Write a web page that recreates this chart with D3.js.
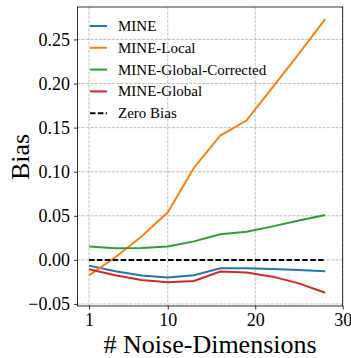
<!DOCTYPE html>
<html><head><meta charset="utf-8">
<script src="https://cdn.jsdelivr.net/npm/d3@7"></script>
<style>html,body{margin:0;padding:0;background:#fff;}svg{display:block;} svg text{font-family:"Liberation Serif","DejaVu Serif",serif !important;}</style>
</head><body>
<script>
const noiseDims = [1, 4, 7, 10, 13, 16, 19, 22, 25, 28];
const mine = [-0.0065, -0.013, -0.0178, -0.0201, -0.0175, -0.0095, -0.0095, -0.0102, -0.0114, -0.013];
const mineLocal = [-0.0175, 0.003, 0.0265, 0.054, 0.1045, 0.141, 0.158, 0.196, 0.234, 0.273];
const mineGlobalCorrected = [0.0151, 0.0132, 0.0136, 0.0151, 0.021, 0.029, 0.032, 0.038, 0.0447, 0.051];
const mineGlobal = [-0.0107, -0.0175, -0.0227, -0.0254, -0.0239, -0.0133, -0.0144, -0.019, -0.0266, -0.0372];
const zeroBias = noiseDims.map(() => 0);
const seriesNames = ["MINE", "MINE-Local", "MINE-Global-Corrected", "MINE-Global", "Zero Bias"];
const seriesColors = ["#1f77b4", "#ff7f0e", "#2ca02c", "#d62728", "#000000"];
const xTicks = [1, 10, 20, 30];
const yTicks = [-0.05, 0, 0.05, 0.10, 0.15, 0.20, 0.25];

const W = 351, H = 358;
const L = 77.5, R = 342.7, T = 7, B = 306;
const svg = d3.select("body").append("svg").attr("width", W).attr("height", H);
const x = d3.scaleLinear().domain([-0.32, 30]).range([L, R]);
const y = d3.scaleLinear().domain([-0.0523, 0.2868]).range([B, T]);
const font = "Liberation Serif";

// grid
const grid = svg.append("g");
xTicks.forEach(t => grid.append("line").attr("x1", x(t)).attr("x2", x(t)).attr("y1", T).attr("y2", B)
  .attr("stroke", "#b0b0b0").attr("stroke-width", 0.8).attr("stroke-dasharray", "3,1.3"));
yTicks.forEach(t => grid.append("line").attr("x1", L).attr("x2", R).attr("y1", y(t)).attr("y2", y(t))
  .attr("stroke", "#b0b0b0").attr("stroke-width", 0.8).attr("stroke-dasharray", "3,1.3"));

// lines
const allSeries = [mine, mineLocal, mineGlobalCorrected, mineGlobal, zeroBias];
const line = d3.line().x((d, i) => x(noiseDims[i])).y(d => y(d));
allSeries.forEach((s, k) => {
  const p = svg.append("path").datum(s).attr("d", line).attr("fill", "none")
    .attr("stroke", seriesColors[k]).attr("stroke-width", 2);
  if (k === 4) p.attr("stroke-dasharray", "5.5,2.4");
});

// axes
const fmt = d => d < 0 ? "\u2212" + Math.abs(d).toFixed(2) : d.toFixed(2);
const xAxis = svg.append("g").attr("transform", `translate(0,${B})`)
  .call(d3.axisBottom(x).tickValues(xTicks).tickSize(3.5).tickPadding(4).tickFormat(d3.format("d")));
const yAxis = svg.append("g").attr("transform", `translate(${L},0)`)
  .call(d3.axisLeft(y).tickValues(yTicks).tickSize(3.5).tickPadding(4).tickFormat(fmt));
[xAxis, yAxis].forEach(a => {
  a.attr("font-family", font);
  a.select(".domain").remove();
  a.selectAll("text").attr("font-family", font).attr("font-size", 18).attr("fill", "#000");
  a.selectAll("line").attr("stroke", "#000").attr("stroke-width", 0.8);
});
svg.append("rect").attr("x", L).attr("y", T).attr("width", R - L).attr("height", B - T)
  .attr("fill", "none").attr("stroke", "#000").attr("stroke-width", 0.8);

// labels
svg.append("text").attr("x", (L + R) / 2).attr("y", 353).attr("text-anchor", "middle")
  .attr("font-family", font).attr("font-size", 26).text("# Noise-Dimensions");
svg.append("text").attr("transform", `translate(29,157) rotate(-90)`).attr("text-anchor", "middle")
  .attr("font-family", font).attr("font-size", 26).text("Bias");

// legend (no frame)
const lg = svg.append("g");
seriesNames.forEach((n, i) => {
  const yy = 26 + i * 21.8;
  const l = lg.append("line").attr("x1", 90).attr("x2", 107).attr("y1", yy).attr("y2", yy)
    .attr("stroke", seriesColors[i]).attr("stroke-width", 2);
  if (i === 4) l.attr("stroke-dasharray", "5.5,2.4");
  lg.append("text").attr("x", 118).attr("y", yy + 5).attr("font-family", font).attr("font-size", 15).text(n);
});
</script>
</body></html>
